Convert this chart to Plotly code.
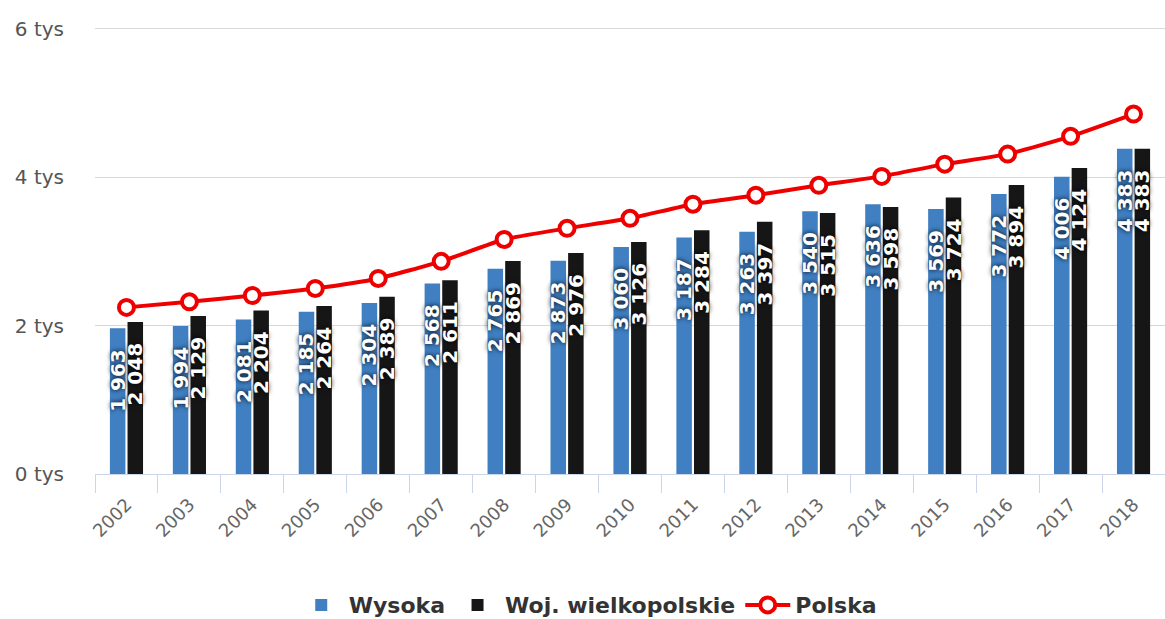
import plotly.graph_objects as go

years = [str(y) for y in range(2002, 2019)]
wysoka = [1963, 1994, 2081, 2185, 2304, 2568, 2765, 2873, 3060, 3187, 3263, 3540, 3636, 3569, 3772, 4006, 4383]
woj = [2048, 2129, 2204, 2264, 2389, 2611, 2869, 2976, 3126, 3284, 3397, 3515, 3598, 3724, 3894, 4124, 4383]
polska = [2245, 2320, 2405, 2500, 2635, 2865, 3160, 3310, 3445, 3635, 3757, 3890, 4010, 4175, 4310, 4550, 4850]
ytick_vals = [0, 2000, 4000, 6000]
ytick_text = ["0 tys", "2 tys", "4 tys", "6 tys"]


def fmt(v):
    return f"{v:,}".replace(",", " ") + "\u00a0\u00a0\u2009"


label_font = dict(family="DejaVu Sans", size=20, color="white", weight="bold",
                  shadow="0px 0px 5px #000000")

fig = go.Figure()
fig.add_trace(go.Bar(
    x=years, y=wysoka, name="Wysoka",
    marker=dict(color="#3f7fc2", line=dict(width=0)),
    text=[fmt(v) for v in wysoka], textposition="inside", insidetextanchor="end",
    textangle=-90, textfont=label_font, constraintext="none", cliponaxis=False,
))
fig.add_trace(go.Bar(
    x=years, y=woj, name="Woj. wielkopolskie",
    marker=dict(color="#161616", line=dict(width=0)),
    text=[fmt(v) for v in woj], textposition="inside", insidetextanchor="end",
    textangle=-90, textfont=label_font, constraintext="none", cliponaxis=False,
))
fig.add_trace(go.Scatter(
    x=years, y=polska, name="Polska", mode="lines+markers",
    line=dict(color="#ee0000", width=4, shape="spline", smoothing=0.5),
    marker=dict(size=15, color="white", line=dict(color="#ee0000", width=4)),
))

fig.update_layout(
    width=1165, height=619,
    margin=dict(l=95, r=0, t=22, b=145, autoexpand=False),
    plot_bgcolor="white", paper_bgcolor="white",
    barmode="group", bargap=0.44, bargroupgap=0.12,
    uniformtext=dict(minsize=20, mode="show"),
    font=dict(family="DejaVu Sans", color="#555555"),
    showlegend=True,
    legend=dict(orientation="h", x=0.4605, xanchor="center", y=-0.29, yanchor="middle",
                font=dict(size=22, color="#333333", weight="bold"),
                itemwidth=45, traceorder="normal"),
    xaxis=dict(type="category", range=[-0.5, len(years) - 0.5],
               tickangle=-45, tickfont=dict(size=18, color="#666666"),
               showline=True, linecolor="#ccd6eb", linewidth=1,
               ticks="outside", tickson="boundaries", ticklen=18, tickcolor="#ccd6eb",
               ticklabelstandoff=12,
               showgrid=False, automargin=False),
    yaxis=dict(range=[0, 6090], tickvals=ytick_vals, ticktext=ytick_text,
               tickfont=dict(size=20, color="#555555"),
               showgrid=True, gridcolor="#d8d8d8", gridwidth=1, zeroline=False,
               ticklabelstandoff=30, automargin=False),
)

fig.write_html("out.html", config={"displayModeBar": False},
               post_script="document.body.style.margin='0';")
